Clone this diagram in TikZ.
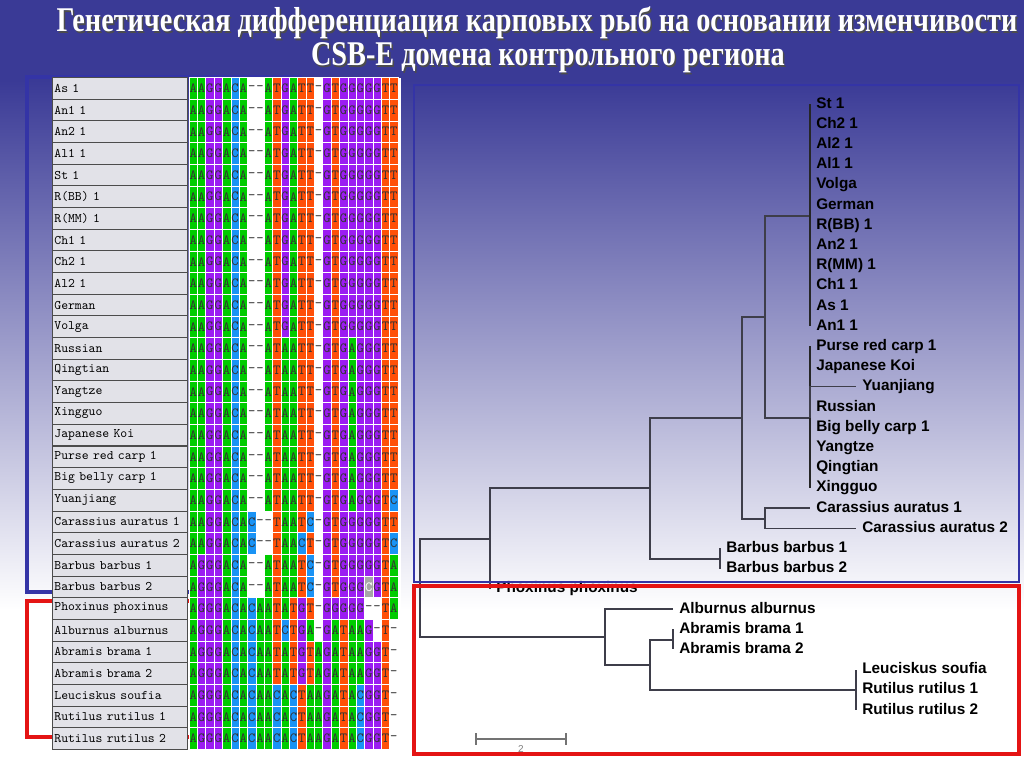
\documentclass[tikz,border=0pt]{standalone}
\usepackage{fontspec}
\newfontfamily\treefont{Liberation Sans}
\newfontfamily\titlefont{Liberation Serif}
\usetikzlibrary{positioning}

% colours
\definecolor{bgtop}{HTML}{3A3A96}
\definecolor{ntA}{HTML}{00CC00}
\definecolor{ntG}{HTML}{9B1CF2}
\definecolor{ntC}{HTML}{1A93F5}
\definecolor{ntT}{HTML}{FF5008}
\definecolor{labgray}{HTML}{E2E2E8}
\definecolor{frameblue}{HTML}{3434A6}
\definecolor{framered}{HTML}{E41414}
\definecolor{branchgray}{HTML}{3E3E4A}

\def\colw{8.36}
\def\rowh{21.67}

\tikzset{
  nt/.style={draw=white, line width=0.4pt, minimum width=6.27pt, minimum height=16.25pt,
    inner sep=0pt, text=black!80, font=\fontsize{10.5}{10}\selectfont\ttfamily},
  lbl/.style={draw=black!70, line width=0.6pt, fill=labgray, anchor=west, text width=98.5pt,
    inner xsep=1.5pt, inner ysep=0pt, minimum height=16.25pt, font=\fontsize{9.8}{10}\selectfont\ttfamily},
  leaf/.style={anchor=west, inner xsep=4.5pt, inner ysep=0pt, text height=8.2pt, text depth=2.2pt,
    font=\fontsize{11.5}{12}\selectfont\treefont\bfseries},
  branch/.style={draw=branchgray, line width=0.9pt},
  poly/.style={draw=black!85, line width=1.4pt},
  title/.style={text=white, font=\fontsize{26}{28}\selectfont\titlefont\bfseries},
  tshadow/.style={text=black!70, font=\fontsize{26}{28}\selectfont\titlefont\bfseries}
}

% one coloured cell of the alignment (c = selected C)
\def\seqcell#1{%
  \edef\colidx{\the\numexpr\colidx+1\relax}%
  \def\cc{white}\def\ct{black!80}\def\chr{#1}%
  \if#1A\def\cc{ntA}\fi
  \if#1G\def\cc{ntG}\fi
  \if#1C\def\cc{ntC}\fi
  \if#1T\def\cc{ntT}\fi
  \if#1c\def\cc{gray!70}\def\ct{white}\def\chr{C}\fi
  \node[nt, fill=\cc, text=\ct] (s\rw-\colidx) at ({189+(\colidx-0.5)*\colw},{77.5+(\rw-0.5)*\rowh}) {\chr};}
\def\seqwalk#1#2\relax{\seqcell{#1}\ifx\relax#2\relax\else\seqwalk#2\relax\fi}

\begin{document}
\begin{tikzpicture}[x=0.75pt, y=-0.75pt]
	\useasboundingbox (0,0) rectangle (1024,768);
	
	%%%%% background %%%%%
	\fill[bgtop] (0,0) rectangle (1024,81);
	\shade[top color=bgtop, bottom color=white] (0,80) rectangle (1024,610);
	\fill[white] (0,609) rectangle (1024,768);
	
	%%%%% alignment %%%%%
	\draw[frameblue, line width=2.5pt] (27,77) rectangle (300,592);
	\draw[framered, line width=2.5pt] (27,601) rectangle (300,737);
	\fill[white] (189,77.5) rectangle (401,749);
	
	\foreach \lab/\sq [count=\rw] in {
		As 1/AAGGACA--ATGATT-GTGGGGGTT,
		An1 1/AAGGACA--ATGATT-GTGGGGGTT,
		An2 1/AAGGACA--ATGATT-GTGGGGGTT,
		Al1 1/AAGGACA--ATGATT-GTGGGGGTT,
		St 1/AAGGACA--ATGATT-GTGGGGGTT,
		R(BB) 1/AAGGACA--ATGATT-GTGGGGGTT,
		R(MM) 1/AAGGACA--ATGATT-GTGGGGGTT,
		Ch1 1/AAGGACA--ATGATT-GTGGGGGTT,
		Ch2 1/AAGGACA--ATGATT-GTGGGGGTT,
		Al2 1/AAGGACA--ATGATT-GTGGGGGTT,
		German/AAGGACA--ATGATT-GTGGGGGTT,
		Volga/AAGGACA--ATGATT-GTGGGGGTT,
		Russian/AAGGACA--ATAATT-GTGAGGGTT,
		Qingtian/AAGGACA--ATAATT-GTGAGGGTT,
		Yangtze/AAGGACA--ATAATT-GTGAGGGTT,
		Xingguo/AAGGACA--ATAATT-GTGAGGGTT,
		Japanese Koi/AAGGACA--ATAATT-GTGAGGGTT,
		Purse red carp 1/AAGGACA--ATAATT-GTGAGGGTT,
		Big belly carp 1/AAGGACA--ATAATT-GTGAGGGTT,
		Yuanjiang/AAGGACA--ATAATT-GTGAGGGTC,
		Carassius auratus 1/AAGGACAC--TAATC-GTGGGGGTT,
		Carassius auratus 2/AAGGACAC--TAACT-GTGGGGGTC,
		Barbus barbus 1/AGGGACA--ATAATC-GTGGGGGTA,
		Barbus barbus 2/AGGGACA--ATAATC-GTGGGcGTA,
		Phoxinus phoxinus/AGGGACACAATATGT-GGGGG--TA,
		Alburnus alburnus/AGGGACACAATCTGA-GATAAG-T-,
		Abramis brama 1/AGGGACACAATATGTAGATAAGGT-,
		Abramis brama 2/AGGGACACAATATGTAGATAAGGT-,
		Leuciskus soufia/AGGGACACAACACTAAGATACGGT-,
		Rutilus rutilus 1/AGGGACACAACACTAAGATACGGT-,
		Rutilus rutilus 2/AGGGACACAACACTAAGATACGGT-}
	{
		\node[lbl] (l\rw) at (52,{77.5+(\rw-0.5)*\rowh}) {\lab};
		\def\colidx{0}\expandafter\seqwalk\sq\relax
	}
	
	%%%%% tree %%%%%
	\foreach \nm/\txt/\xx [count=\k from 0] in {
		st1/St 1/810, ch21/Ch2 1/810, al21/Al2 1/810, al11/Al1 1/810,
		volga/Volga/810, german/German/810, rbb1/R(BB) 1/810, an21/An2 1/810,
		rmm1/R(MM) 1/810, ch11/Ch1 1/810, as1/As 1/810, an11/An1 1/810,
		purse/Purse red carp 1/810, koi/Japanese Koi/810, yuan/Yuanjiang/856,
		russian/Russian/810, belly/Big belly carp 1/810, yangtze/Yangtze/810,
		qingtian/Qingtian/810, xingguo/Xingguo/810,
		car1/Carassius auratus 1/810, car2/Carassius auratus 2/856,
		barb1/Barbus barbus 1/720, barb2/Barbus barbus 2/720,
		phox/Phoxinus phoxinus/490, alb/Alburnus alburnus/673,
		abr1/Abramis brama 1/673, abr2/Abramis brama 2/673,
		leu/Leuciskus soufia/856, rut1/Rutilus rutilus 1/856, rut2/Rutilus rutilus 2/856}
	{
		\node[leaf] (\nm) at (\xx,{104+\k*20.2}) {\txt};
	}
	
	\coordinate (root) at (420,588);
	\coordinate (nA) at (490,539);
	\coordinate (nB) at (650,488);
	\coordinate (nC) at (742,418);
	\coordinate (nD) at (765,317);
	\coordinate (nK1) at (810,216);
	\coordinate (nK2) at (810,418);
	\coordinate (nCa) at (765,519);
	\coordinate (nBa) at (720,559);
	\coordinate (nE) at (605,637);
	\coordinate (nF) at (650,665);
	\coordinate (nAb) at (673,640);
	\coordinate (nRu) at (856,690);
	
	\draw[branch] (root) |- (nA);
	\draw[branch] (root) |- (nE);
	\draw[branch] (nA) |- (nB);
	\draw[branch] (nA) |- (phox.west);
	\draw[branch] (nB) |- (nC);
	\draw[branch] (nB) |- (nBa);
	\draw[branch] (nBa) |- (barb1.west);
	\draw[branch] (nBa) |- (barb2.west);
	\draw[branch] (nC) |- (nD);
	\draw[branch] (nC) |- (nCa);
	\draw[branch] (nD) |- (nK1);
	\draw[branch] (nD) |- (nK2);
	\foreach \l in {st1,ch21,al21,al11,volga,german,rbb1,an21,rmm1,ch11,as1,an11}
		\draw[poly] (nK1) |- (\l.west);
	\foreach \l in {purse,koi,russian,belly,yangtze,qingtian,xingguo}
		\draw[poly] (nK2) |- (\l.west);
	\draw[branch] (nK2) -- (nK2 |- yuan.west) -- (yuan.west);
	\draw[branch] (nCa) |- (car1.west);
	\draw[branch] (nCa) |- (car2.west);
	\draw[branch] (nE) |- (alb.west);
	\draw[branch] (nE) |- (nF);
	\draw[branch] (nF) |- (nAb);
	\draw[branch] (nF) |- (nRu);
	\draw[branch] (nAb) |- (abr1.west);
	\draw[branch] (nAb) |- (abr2.west);
	\draw[branch] (nRu) |- (leu.west);
	\draw[branch] (nRu) |- (rut1.west);
	\draw[branch] (nRu) |- (rut2.west);
	
	% scale bar
	\coordinate (sbL) at (475,739);
	\coordinate (sbR) at (567,739);
	\draw[gray!90!black, line width=1.2pt, |-|] (sbL) -- (sbR) node[midway, below=1pt, text=gray, font=\fontsize{7.5}{7.5}\selectfont\treefont] (sblab) {2};
	
	\draw[frameblue, line width=2pt] (414,85) rectangle (1019,582);
	\draw[framered, line width=2.5pt] (414,586) rectangle (1019,754);
	
	%%%%% title %%%%%
	\node[tshadow] (title1s) at (538.5,24.5) {\scalebox{0.815}[1]{Генетическая дифференциация карповых рыб на основании изменчивости}};
	\node[title] (title1) at (537,23) {\scalebox{0.815}[1]{Генетическая дифференциация карповых рыб на основании изменчивости}};
	\node[tshadow] (title2s) at (549.5,59.5) {\scalebox{0.815}[1]{CSB-E домена контрольного региона}};
	\node[title] (title2) at (548,58) {\scalebox{0.815}[1]{CSB-E домена контрольного региона}};
\end{tikzpicture}
\end{document}
